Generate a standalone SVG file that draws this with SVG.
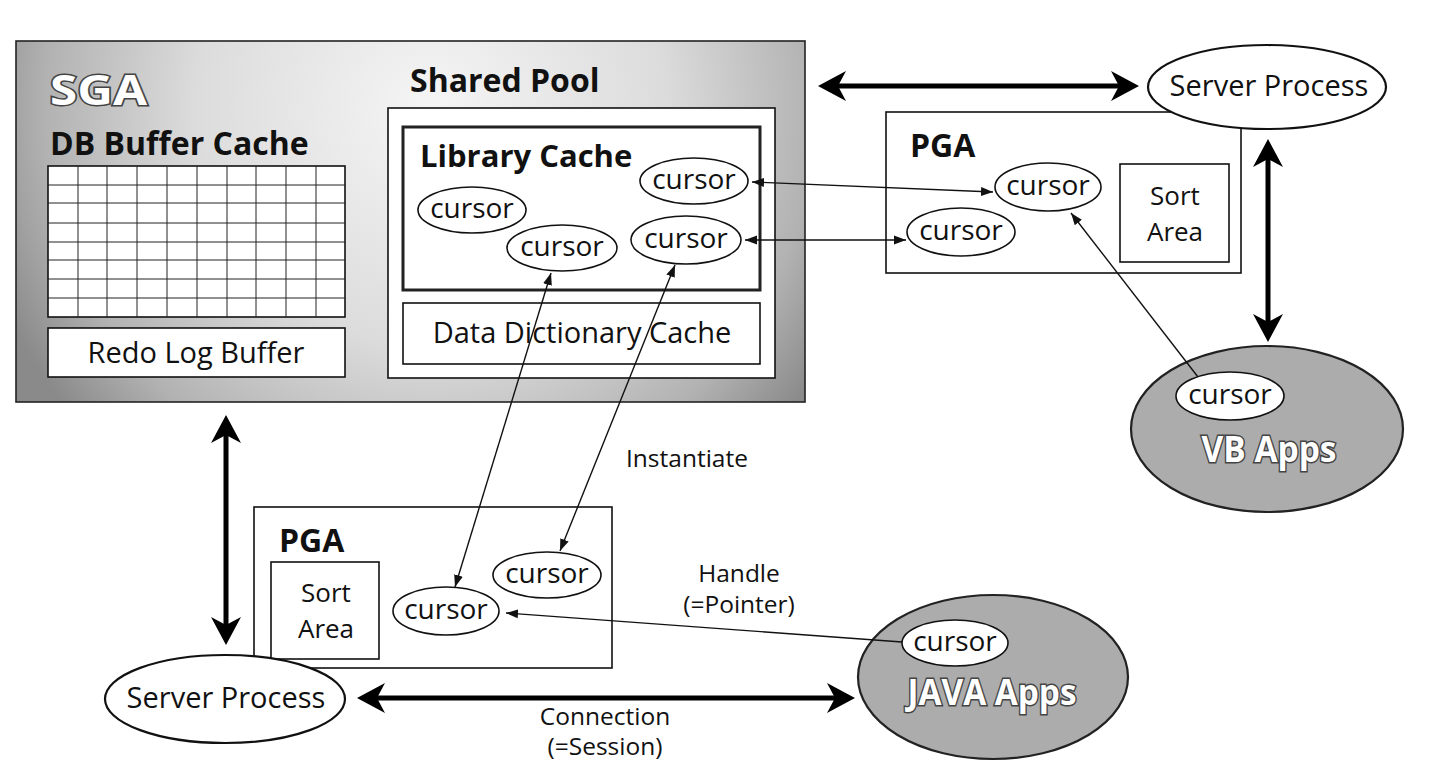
<svg xmlns="http://www.w3.org/2000/svg" width="1434" height="776" viewBox="0 0 1434 776">
<style>
text{font-family:"Open Sans","Noto Sans","Liberation Sans",sans-serif;fill:#111}
.b{font-weight:bold}
.r{font-size:29px}
.sa{font-size:26px;text-anchor:middle}
.cur{font-size:28px;text-anchor:middle}
.lbl{font-size:24.5px}
.mid{text-anchor:middle}
.box{fill:#fff;stroke:#111;stroke-width:1.6}
.ov{fill:#fff;stroke:#111;stroke-width:1.6}
.proc{fill:#fff;stroke:#111;stroke-width:2.2}
.app{fill:#acacac;stroke:#222;stroke-width:2.2}
.outl{fill:#fff;stroke:#444;stroke-width:3;paint-order:stroke;font-weight:bold}
.grid line{stroke:#222;stroke-width:1}
.thick{stroke:#000;stroke-width:5;fill:none;marker-start:url(#big);marker-end:url(#big)}
.thin{stroke:#111;stroke-width:1.4;fill:none}
.both{marker-start:url(#tip);marker-end:url(#tip)}
.one{marker-end:url(#tip)}
</style>
<defs>
<radialGradient id="sgaFill" gradientUnits="userSpaceOnUse" cx="430" cy="110" r="470">
<stop offset="0" stop-color="#f5f5f5"/>
<stop offset="0.5" stop-color="#dcdcdc"/>
<stop offset="0.82" stop-color="#b2b2b2"/>
<stop offset="1" stop-color="#8a8a8a"/>
</radialGradient>
<marker id="big" viewBox="0 -16 30 32" markerWidth="30" markerHeight="32" refX="13" refY="0" orient="auto-start-reverse" markerUnits="userSpaceOnUse">
<path d="M0,-15 L28,0 L0,15 L8,0 Z" fill="#000"/>
</marker>
<marker id="tip" viewBox="0 -5 12 10" markerWidth="12" markerHeight="10" refX="12" refY="0" orient="auto-start-reverse" markerUnits="userSpaceOnUse">
<path d="M0,-4.5 L12,0 L0,4.5 Z" fill="#111"/>
</marker>
</defs>
<rect width="1434" height="776" fill="#fff"/>

<g id="sga">
<rect x="16" y="41" width="789" height="361" fill="url(#sgaFill)" stroke="#222" stroke-width="1.6"/>
<text class="outl" x="50" y="105" font-size="41" textLength="97" lengthAdjust="spacingAndGlyphs">SGA</text>
</g>

<g id="db-buffer-cache">
<text class="b" x="50" y="155" font-size="32">DB Buffer Cache</text>
<rect class="box" x="48" y="166" width="297" height="151" stroke-width="2"/>
<g class="grid">
<line x1="78" y1="166" x2="78" y2="317"/><line x1="107" y1="166" x2="107" y2="317"/>
<line x1="137" y1="166" x2="137" y2="317"/><line x1="167" y1="166" x2="167" y2="317"/>
<line x1="197" y1="166" x2="197" y2="317"/><line x1="227" y1="166" x2="227" y2="317"/>
<line x1="256" y1="166" x2="256" y2="317"/><line x1="286" y1="166" x2="286" y2="317"/>
<line x1="316" y1="166" x2="316" y2="317"/>
<line x1="48" y1="185" x2="345" y2="185"/><line x1="48" y1="203" x2="345" y2="203"/>
<line x1="48" y1="223" x2="345" y2="223"/><line x1="48" y1="242" x2="345" y2="242"/>
<line x1="48" y1="260" x2="345" y2="260"/><line x1="48" y1="279" x2="345" y2="279"/>
<line x1="48" y1="298" x2="345" y2="298"/>
</g>
</g>

<g id="redo-log-buffer">
<rect class="box" x="48" y="328" width="297" height="49"/>
<text class="r mid" x="196" y="363">Redo Log Buffer</text>
</g>

<g id="shared-pool">
<text class="b" x="410" y="92" font-size="32">Shared Pool</text>
<rect class="box" x="388" y="108" width="387" height="270" stroke-width="2"/>
</g>

<g id="library-cache">
<rect x="403" y="127" width="357" height="163" fill="#fff" stroke="#222" stroke-width="3"/>
<text class="b" x="420" y="167" font-size="31">Library Cache</text>
</g>

<g id="lib-cursor-1"><ellipse class="ov" cx="472" cy="210" rx="54" ry="23"/><text class="cur" x="472" y="218">cursor</text></g>
<g id="lib-cursor-2"><ellipse class="ov" cx="562" cy="248" rx="55" ry="23"/><text class="cur" x="562" y="256">cursor</text></g>
<g id="lib-cursor-3"><ellipse class="ov" cx="694" cy="181" rx="54" ry="23"/><text class="cur" x="694" y="189">cursor</text></g>
<g id="lib-cursor-4"><ellipse class="ov" cx="686" cy="240" rx="55" ry="24"/><text class="cur" x="686" y="248">cursor</text></g>

<g id="data-dictionary-cache">
<rect class="box" x="403" y="303" width="357" height="61"/>
<text class="r mid" x="582" y="343">Data Dictionary Cache</text>
</g>

<g id="pga-right">
<rect class="box" x="886" y="112" width="355" height="161" stroke-width="1.4"/>
<text class="b" x="910" y="157" font-size="32">PGA</text>
<rect class="box" x="1120" y="164" width="109" height="98" stroke-width="1.4"/>
<text class="sa" x="1175" y="205">Sort</text>
<text class="sa" x="1175" y="241">Area</text>
</g>
<g id="pga-right-cursor-1"><ellipse class="ov" cx="1048" cy="187" rx="53" ry="24"/><text class="cur" x="1048" y="195">cursor</text></g>
<g id="pga-right-cursor-2"><ellipse class="ov" cx="961" cy="232" rx="54" ry="24"/><text class="cur" x="961" y="240">cursor</text></g>

<g id="server-process-top">
<ellipse class="proc" cx="1267" cy="87" rx="119" ry="42"/>
<text class="r mid" x="1269" y="96">Server Process</text>
</g>

<g id="vb-apps">
<ellipse class="app" cx="1267" cy="429" rx="136" ry="83"/>
<text class="outl mid" x="1269" y="462" font-size="36" textLength="135" lengthAdjust="spacingAndGlyphs">VB Apps</text>
</g>
<g id="vb-cursor"><ellipse class="ov" cx="1230" cy="396" rx="54" ry="24" stroke-width="2"/><text class="cur" x="1230" y="404">cursor</text></g>

<g id="pga-bottom">
<rect class="box" x="254" y="507" width="358" height="161" stroke-width="1.4"/>
<text class="b" x="279" y="552" font-size="32">PGA</text>
<rect class="box" x="271" y="562" width="108" height="97" stroke-width="1.4"/>
<text class="sa" x="326" y="602">Sort</text>
<text class="sa" x="326" y="638">Area</text>
</g>
<g id="pga-bottom-cursor-1"><ellipse class="ov" cx="446" cy="611" rx="53" ry="24"/><text class="cur" x="446" y="619">cursor</text></g>
<g id="pga-bottom-cursor-2"><ellipse class="ov" cx="547" cy="575" rx="54" ry="23"/><text class="cur" x="547" y="583">cursor</text></g>

<g id="server-process-bottom">
<ellipse class="proc" cx="225" cy="699" rx="120" ry="44"/>
<text class="r mid" x="226" y="708">Server Process</text>
</g>

<g id="java-apps">
<ellipse class="app" cx="993" cy="677" rx="135" ry="82"/>
<text class="outl mid" x="992" y="705" font-size="36" textLength="169" lengthAdjust="spacingAndGlyphs">JAVA Apps</text>
</g>
<g id="java-cursor"><ellipse class="ov" cx="955" cy="643" rx="53" ry="23" stroke-width="2"/><text class="cur" x="955" y="651">cursor</text></g>

<g id="connectors">
<line class="thick" x1="833" y1="86" x2="1124" y2="86"/>
<line class="thick" x1="1268" y1="154" x2="1268" y2="327"/>
<line class="thick" x1="226" y1="430" x2="226" y2="630"/>
<line class="thick" x1="372" y1="698" x2="840" y2="698"/>
<line class="thin both" x1="752" y1="182" x2="993" y2="192"/>
<line class="thin both" x1="745" y1="240" x2="906" y2="240"/>
<line class="thin both" x1="551" y1="273" x2="455" y2="587"/>
<line class="thin both" x1="675" y1="265" x2="560" y2="551"/>
<line class="thin one" x1="902" y1="642" x2="506" y2="613"/>
<line class="thin one" x1="1198" y1="377" x2="1071" y2="213"/>
</g>

<g id="labels">
<text class="lbl" x="626" y="467">Instantiate</text>
<text class="lbl mid" x="739" y="582">Handle</text>
<text class="lbl mid" x="739" y="613">(=Pointer)</text>
<text class="lbl mid" x="605" y="725" font-size="25">Connection</text>
<text class="lbl mid" x="605" y="755" font-size="25">(=Session)</text>
</g>
</svg>
